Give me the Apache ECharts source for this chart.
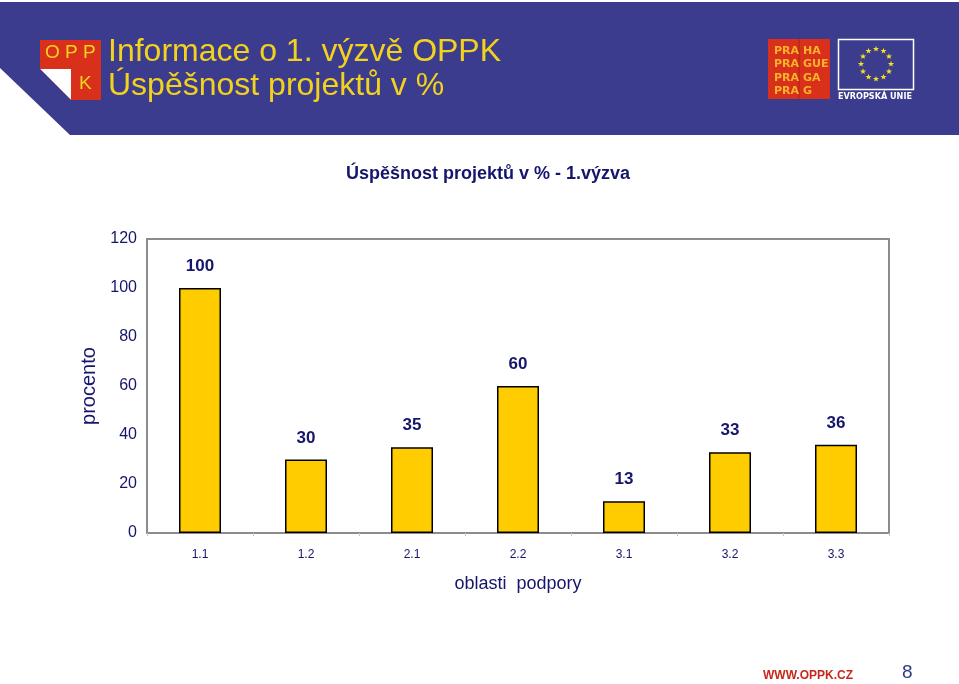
<!DOCTYPE html>
<html>
<head>
<meta charset="utf-8">
<script src="https://cdn.jsdelivr.net/npm/echarts@6/dist/echarts.min.js"></script>
<style>
html,body{margin:0;padding:0;background:#fff;}
#c{width:959px;height:684px;}
</style>
</head>
<body>
<div id="c"></div>
<script>
var categories = ['1.1', '1.2', '2.1', '2.2', '3.1', '3.2', '3.3'];
var values = [100, 30, 35, 60, 13, 33, 36];
var yTicks = [0, 20, 40, 60, 80, 100, 120];
var chartTitle = 'Úspěšnost projektů v % - 1.výzva';
var headerLine1 = 'Informace o 1. výzvě OPPK';
var headerLine2 = 'Úspěšnost projektů v %';
var xName = 'oblasti  podpory';
var yName = 'procento';

var BLUE = '#3c3c8e';
var NAVY = '#15156b';
var FONT = '"Liberation Sans", Arial, sans-serif';

// EU stars
var stars = [];
for (var i = 0; i < 12; i++) {
  var a = i * Math.PI / 6;
  var cx = 876 + 15 * Math.sin(a), cy = 64 - 15 * Math.cos(a);
  var pts = [];
  for (var k = 0; k < 10; k++) {
    var r = (k % 2 === 0) ? 3.2 : 1.3;
    var b = k * Math.PI / 5;
    pts.push([cx + r * Math.sin(b), cy - r * Math.cos(b)]);
  }
  stars.push({type: 'polygon', shape: {points: pts}, style: {fill: '#f5e11c'}, z: 12});
}

var graphics = [
  {type: 'polygon', shape: {points: [[0, 2], [959, 2], [959, 135], [70, 135], [0, 68]]}, style: {fill: BLUE}, z: 1},
  // OPPK logo
  {type: 'rect', shape: {x: 40, y: 40, width: 61, height: 60}, style: {fill: '#d9301c'}, z: 5},
  {type: 'polygon', shape: {points: [[40, 69], [71, 69], [71, 100]]}, style: {fill: '#ffffff'}, z: 6},
  {type: 'polygon', shape: {points: [[40, 69], [40, 100], [71, 100]]}, style: {fill: BLUE}, z: 6},
  {type: 'text', left: 45, top: 43, style: {text: 'O P P', fill: '#f5d31f', font: '19px "Liberation Sans", Arial, sans-serif'}, z: 7},
  {type: 'text', left: 79, top: 74, style: {text: 'K', fill: '#f5d31f', font: '19px "Liberation Sans", Arial, sans-serif'}, z: 7},
  // header titles
  {type: 'text', left: 108, top: 36, style: {text: headerLine1, fill: '#f3d21e', font: '32px "Liberation Sans", Arial, sans-serif'}, z: 7},
  {type: 'text', left: 108, top: 70, style: {text: headerLine2, fill: '#f3d21e', font: '32px "Liberation Sans", Arial, sans-serif'}, z: 7},
  // PRAHA logo
  {type: 'rect', shape: {x: 768, y: 39, width: 62, height: 60}, style: {fill: '#d9301c'}, z: 5},
  {type: 'line', shape: {x1: 799, y1: 39, x2: 799, y2: 99}, style: {stroke: '#b02214', lineWidth: 1}, z: 6},
  {type: 'text', left: 774, top: 44, style: {text: 'PRA\nPRA\nPRA\nPRA', fill: '#f7b329', font: 'bold 11px "DejaVu Sans", sans-serif', lineHeight: 13.5}, z: 7},
  {type: 'text', left: 803, top: 44, style: {text: 'HA\nGUE\nGA\nG', fill: '#f7b329', font: 'bold 11px "DejaVu Sans", sans-serif', lineHeight: 13.5}, z: 7},
  // EU flag
  {type: 'rect', shape: {x: 838.5, y: 39.5, width: 75, height: 50}, style: {fill: BLUE, stroke: '#ffffff', lineWidth: 1.5}, z: 5},
  {type: 'text', left: 838, top: 92, style: {text: 'EVROPSKÁ UNIE', fill: '#ffffff', font: 'bold 9px "DejaVu Sans Condensed", "DejaVu Sans", sans-serif'}, z: 7},
  // footer
  {type: 'text', left: 763, top: 670, style: {text: 'WWW.OPPK.CZ', fill: '#c8281c', font: 'bold 12px "Liberation Sans", Arial, sans-serif'}, z: 7},
  {type: 'text', left: 902, top: 663, style: {text: '8', fill: '#2e3a80', font: '19px "Liberation Sans", Arial, sans-serif'}, z: 7}
].concat(stars);

var chart = echarts.init(document.getElementById('c'), null, {renderer: 'canvas'});
chart.setOption({
  animation: false,
  backgroundColor: '#ffffff',
  title: {
    text: chartTitle,
    left: 483, top: 160, textAlign: 'center',
    textStyle: {fontFamily: FONT, fontSize: 18, fontWeight: 'bold', color: NAVY}
  },
  graphic: graphics,
  grid: {left: 147, top: 239, width: 742, height: 294, show: true, borderColor: '#8c8c8c', borderWidth: 2, backgroundColor: 'transparent'},
  xAxis: {
    type: 'category',
    data: categories,
    name: xName,
    nameLocation: 'middle',
    nameGap: 42,
    nameTextStyle: {fontFamily: FONT, fontSize: 18, color: NAVY},
    axisLine: {lineStyle: {color: '#8c8c8c', width: 2}},
    axisTick: {show: true, length: 3, lineStyle: {color: '#c8c8c8'}},
    axisLabel: {fontFamily: FONT, fontSize: 12, color: NAVY, margin: 16}
  },
  yAxis: {
    type: 'value',
    min: 0, max: 120, interval: 20,
    name: yName,
    nameLocation: 'middle',
    nameGap: 45,
    nameRotate: 90,
    nameTextStyle: {fontFamily: FONT, fontSize: 20, color: NAVY},
    axisLine: {show: true, lineStyle: {color: '#8c8c8c', width: 2}},
    axisTick: {show: false},
    splitLine: {show: false},
    axisLabel: {fontFamily: FONT, fontSize: 16, color: NAVY, margin: 10,
      formatter: function (v) { return yTicks.indexOf(v) >= 0 ? String(v) : ''; }}
  },
  series: [{
    type: 'bar',
    data: values,
    barWidth: 42,
    itemStyle: {color: '#ffcc00', borderColor: '#000000', borderWidth: 1.5},
    label: {show: true, position: 'top', distance: 13, fontFamily: FONT, fontSize: 17, fontWeight: 'bold', color: NAVY}
  }]
});
</script>
</body>
</html>
